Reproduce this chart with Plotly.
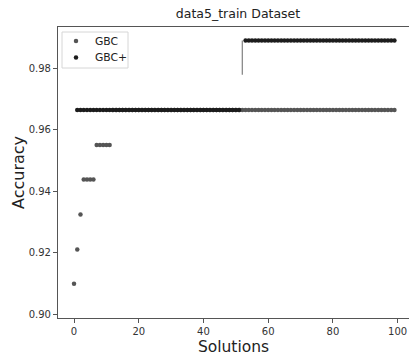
import plotly.graph_objects as go

# Accuracy per solution index for the two models
series_names = ["GBC", "GBC+"]
series_colors = ["#555555", "#1c1c1c"]

gbc_x = list(range(0, 100))
gbc_y = ([0.9100, 0.9211, 0.9325]
         + [0.9438] * 4
         + [0.9550] * 5
         + [0.9664] * 88)

gbcp_x = list(range(1, 52)) + list(range(53, 100))
gbcp_y = [0.9664] * 51 + [0.9889] * 47

# vertical jump marker between the two GBC+ plateaus
jump_x = [52, 52]
jump_y = [0.9778, 0.9889]

x_ticks = [0, 20, 40, 60, 80, 100]
y_ticks = [0.90, 0.92, 0.94, 0.96, 0.98]

W, H = 409, 360
ML, MR, MT, MB = 58, 0, 27, 42
PW, PH = W - ML - MR, H - MT - MB

fig = go.Figure()
fig.add_trace(go.Scatter(
    x=gbc_x, y=gbc_y, mode="markers", name=series_names[0],
    marker=dict(color=series_colors[0], size=4.5, line=dict(width=0)),
))
fig.add_trace(go.Scatter(
    x=gbcp_x, y=gbcp_y, mode="markers", name=series_names[1],
    marker=dict(color=series_colors[1], size=4.5, line=dict(width=0)),
))
fig.add_trace(go.Scatter(
    x=jump_x, y=jump_y, mode="lines",
    line=dict(color="#8a8a8a", width=1.3), hoverinfo="skip",
))

# legend drawn on a pixel-scaled overlay axis pair
legend_box = dict(x0=4, x1=70, y0=5, y1=41)
legend_key_x = 18
legend_text_x = 35
legend_rows = [14, 30.5]

fig.add_shape(type="rect", xref="x2", yref="y2",
              x0=legend_box["x0"], x1=legend_box["x1"],
              y0=legend_box["y0"], y1=legend_box["y1"],
              line=dict(color="#d6d6d6", width=1), fillcolor="white",
              layer="below")
for name, color, row in zip(series_names, series_colors, legend_rows):
    fig.add_trace(go.Scatter(
        x=[legend_key_x], y=[row], xaxis="x2", yaxis="y2", mode="markers",
        marker=dict(color=color, size=4.5, line=dict(width=0)),
        hoverinfo="skip",
    ))
    fig.add_annotation(x=legend_text_x, y=row, xref="x2", yref="y2",
                       text=name, showarrow=False, xanchor="left",
                       yanchor="middle",
                       font=dict(family="DejaVu Sans", size=10.8, color="#222222"))

axis_font = dict(family="DejaVu Sans", size=10, color="#333333")

fig.update_layout(
    width=W, height=H,
    margin=dict(l=ML, r=MR, t=MT, b=MB),
    paper_bgcolor="white", plot_bgcolor="white",
    font=dict(family="DejaVu Sans", color="#222222"),
    title=dict(text="data5_train Dataset", x=0.582, xanchor="center",
               y=0.962, yanchor="middle",
               font=dict(family="DejaVu Sans", size=12.5, color="#222222")),
    showlegend=False,
    xaxis=dict(range=[-4.95, 103.5], tickvals=x_ticks,
               showgrid=False, zeroline=False,
               showline=True, linecolor="#555555", linewidth=1.2, mirror=True,
               ticks="outside", ticklen=4, tickcolor="#555555",
               tickfont=axis_font,
               title=dict(text="Solutions", standoff=5,
                          font=dict(family="DejaVu Sans", size=15.5, color="#222222"))),
    yaxis=dict(range=[0.8989, 0.9933], tickvals=y_ticks, tickformat=".2f",
               showgrid=False, zeroline=False,
               showline=True, linecolor="#555555", linewidth=1.2,
               ticks="outside", ticklen=4, tickcolor="#555555",
               tickfont=axis_font,
               title=dict(text="Accuracy", standoff=0,
                          font=dict(family="DejaVu Sans", size=16, color="#222222"))),
    xaxis2=dict(overlaying="x", anchor="y2", range=[0, PW], visible=False,
                fixedrange=True),
    yaxis2=dict(overlaying="y", anchor="x2", range=[PH, 0], visible=False,
                fixedrange=True),
)

fig.write_html("out.html")
